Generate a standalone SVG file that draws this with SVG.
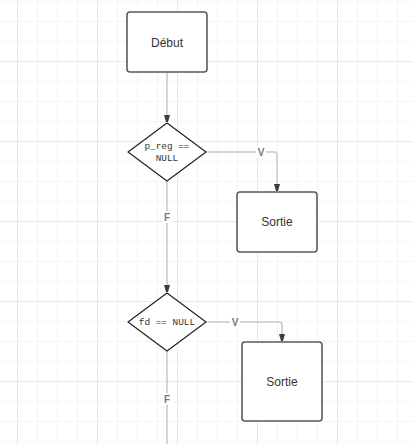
<svg xmlns="http://www.w3.org/2000/svg" width="413" height="444" viewBox="0 0 413 444">
<defs>
<pattern id="minor" x="17" y="1" width="20" height="20" patternUnits="userSpaceOnUse">
<path d="M0 0H20M0 0V20" fill="none" stroke="#ececec" stroke-width="1.2"/>
</pattern>
<pattern id="major" x="17" y="61" width="80" height="80" patternUnits="userSpaceOnUse">
<path d="M0 0H80M0 0V80" fill="none" stroke="#dedede" stroke-width="1.2"/>
</pattern>
<marker id="arr" viewBox="0 0 8 8" refX="7" refY="4" markerWidth="8" markerHeight="8" markerUnits="userSpaceOnUse" orient="auto">
<path d="M0 1L7 3V5L0 7Z" fill="#3a3c48"/>
</marker>
</defs>
<style>
.box{fill:#fff;stroke:#5a5a5a;stroke-width:1.6}
.dia{fill:#fff;stroke:#222;stroke-width:1.2}
.lbl{font-family:"Liberation Sans",Arial,sans-serif;font-size:12px;fill:#333;text-anchor:middle}
.mono{font-family:"Liberation Mono","DejaVu Sans Mono",monospace;font-size:9.4px;fill:#333;text-anchor:middle}
.edge{fill:none;stroke:#d4d4da;stroke-width:2;marker-end:url(#arr)}
.el{font-family:"Liberation Sans",Arial,sans-serif;font-size:10px;font-weight:bold;fill:#777;text-anchor:middle}
.elbg{fill:#fff}
</style>
<rect width="413" height="444" fill="#fff"/>
<rect width="413" height="444" fill="url(#minor)"/>
<rect width="413" height="444" fill="url(#major)"/>
<g id="connectors">
<path class="edge" d="M167 72V122"/>
<path class="edge" d="M206 152H274Q277 152 277 155V191"/>
<path class="edge" d="M167 181V292"/>
<path class="edge" d="M206 322H279Q282 322 282 325V341"/>
<path d="M167 351V444" fill="none" stroke="#d4d4da" stroke-width="2"/>
<rect class="elbg" x="256" y="146" width="10" height="12"/>
<text class="el" x="261" y="156">V</text>
<rect class="elbg" x="162" y="211" width="10" height="12"/>
<text class="el" x="167" y="221">F</text>
<rect class="elbg" x="230" y="316" width="10" height="12"/>
<text class="el" x="235" y="326">V</text>
<rect class="elbg" x="162" y="393" width="10" height="12"/>
<text class="el" x="167" y="403">F</text>
</g>
<g id="debut">
<rect class="box" x="127" y="12" width="80" height="60" rx="3"/>
<text class="lbl" x="167" y="47">Début</text>
</g>
<g id="cond1">
<path class="dia" d="M167 123L206 152L167 181L128 152Z" stroke-linejoin="round"/>
<text class="mono" x="167" y="149">p_reg ==</text>
<text class="mono" x="167" y="161">NULL</text>
</g>
<g id="sortie1">
<rect class="box" x="237" y="192" width="80" height="60" rx="3"/>
<text class="lbl" x="277" y="226">Sortie</text>
</g>
<g id="cond2">
<path class="dia" d="M167 293L206 322L167 351L128 322Z" stroke-linejoin="round"/>
<text class="mono" x="167" y="325">fd == NULL</text>
</g>
<g id="sortie2">
<rect class="box" x="242" y="342" width="80" height="79" rx="3"/>
<text class="lbl" x="282" y="386">Sortie</text>
</g>
</svg>
